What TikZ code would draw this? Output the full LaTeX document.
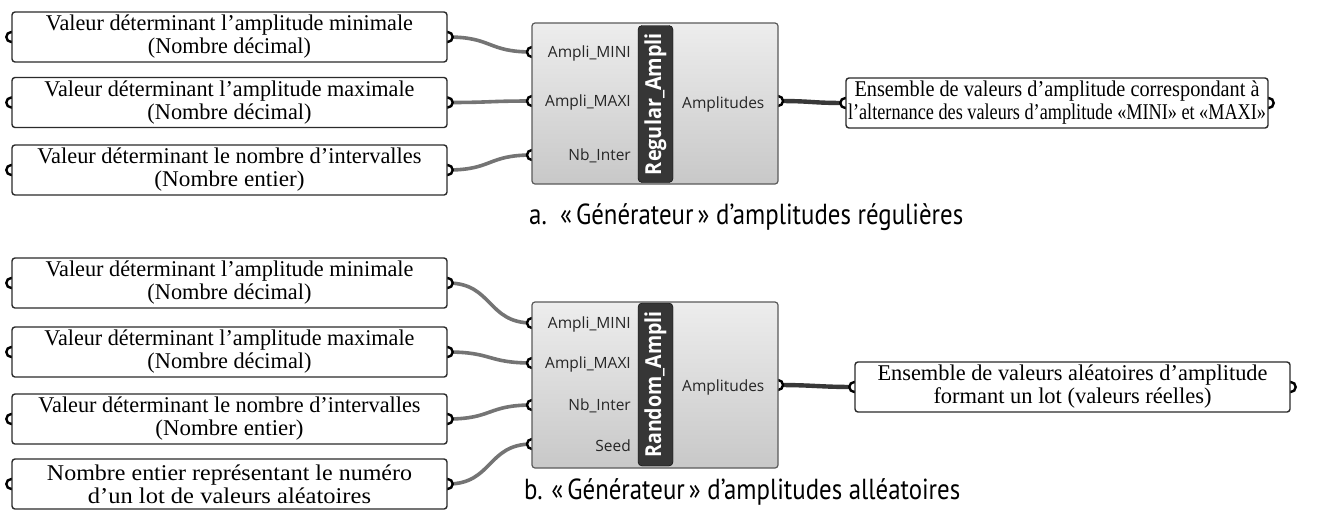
\documentclass[tikz,border=0pt]{standalone}
\usepackage{fontspec}
\usepackage{graphicx}
\setmainfont{Liberation Serif}
\newfontfamily\capfont{PT Sans}
\newfontfamily\uifont{Open Sans}
\usetikzlibrary{calc}
\definecolor{boxline}{HTML}{2B2B2B}
\definecolor{wire}{HTML}{747474}
\definecolor{owire}{HTML}{383838}
\definecolor{compline}{HTML}{5A5A5A}
\definecolor{comptop}{HTML}{EDEDED}
\definecolor{compbot}{HTML}{C8C8C8}
\definecolor{barfill}{HTML}{363636}
\newcommand{\fitw}[2]{\resizebox{#1pt}{\height}{#2}}
\pgfdeclarelayer{bg}
\pgfdeclarelayer{wires}
\pgfdeclarelayer{ports}
\pgfsetlayers{bg,wires,ports,main}
\begin{document}
\begin{tikzpicture}[x=1pt,y=-1pt,
  txtbox/.style={draw=boxline, line width=1.4pt, fill=white, rounded corners=3pt,
    minimum height=50pt, align=center, inner sep=0pt,
    font=\fontsize{22.5}{23}\selectfont},
  inbox/.style={txtbox, minimum width=435pt},
  comp/.style={draw=compline, line width=1.2pt, top color=comptop, bottom color=compbot,
    rounded corners=3pt, minimum width=246pt, inner sep=0pt},
  bar/.style={draw=black, fill=barfill, rounded corners=4pt, rotate=90,
    minimum height=35pt, inner sep=0pt, text=white,
    font=\uifont\bfseries\fontsize{22}{22}\selectfont},
  plabel/.style={font=\uifont\fontsize{15.5}{16}\selectfont, text=black!85, inner sep=0pt},
  port/.style={draw=black, line width=2.4pt, fill=white},
  wirel/.style={draw=wire, line width=3.6pt},
  owirel/.style={draw=owire, line width=4.4pt},
  caption/.style={font=\capfont\fontsize{29}{31}\selectfont, anchor=west, inner sep=0pt}
]
\begin{pgfonlayer}{bg}
\fill[white] (0,0) rectangle (1335,523);
\end{pgfonlayer}
\useasboundingbox (0,0) rectangle (1335,523);

% ---------------- a. regular ----------------
\node[inbox] (inA1) at (229.5,37) {\fitw{367}{Valeur déterminant l’amplitude minimale}\\\fitw{163}{(Nombre décimal)}};
\node[inbox] (inA2) at (229.5,102.5) {\fitw{370}{Valeur déterminant l’amplitude maximale}\\\fitw{164}{(Nombre décimal)}};
\node[inbox] (inA3) at (229.5,170) {\fitw{384}{Valeur déterminant le nombre d’intervalles}\\\fitw{150}{(Nombre entier)}};

\node[comp, minimum height=161pt] (compA) at (655,103.5) {};
\node[bar, minimum width=157pt] (barA) at (655.5,104) {\fitw{142}{Regular\_Ampli}};
\coordinate (aI1) at (532,52);
\coordinate (aI2) at (532,101);
\coordinate (aI3) at (532,155);
\coordinate (aO) at (778,101);
\node[plabel, anchor=east] (laI1) at (631,53) {Ampli\_MINI};
\node[plabel, anchor=east] (laI2) at (631,102) {Ampli\_MAXI};
\node[plabel, anchor=east] (laI3) at (631,156) {Nb\_Inter};
\node[plabel, anchor=west] (laO) at (682,104) {Amplitudes};

\node[txtbox, minimum width=422pt] (outA) at (1057,103) {\fitw{405}{Ensemble de valeurs d’amplitude correspondant à}\\\fitw{418}{l’alternance des valeurs d’amplitude «MINI» et «MAXI»}};

\node[caption] (capA) at (529,217) {\fitw{434}{a.\ \ «\,Générateur\,» d’amplitudes régulières}};

% ---------------- b. random ----------------
\node[inbox] (inB1) at (229.5,283) {\fitw{368}{Valeur déterminant l’amplitude minimale}\\\fitw{164}{(Nombre décimal)}};
\node[inbox] (inB2) at (229.5,352) {\fitw{370}{Valeur déterminant l’amplitude maximale}\\\fitw{164}{(Nombre décimal)}};
\node[inbox] (inB3) at (229.5,419) {\fitw{382}{Valeur déterminant le nombre d’intervalles}\\\fitw{148}{(Nombre entier)}};
\node[inbox] (inB4) at (229.5,484) {\fitw{365}{Nombre entier représentant le numéro}\\\fitw{283}{d’un lot de valeurs aléatoires}};

\node[comp, minimum height=166pt] (compB) at (655,385) {};
\node[bar, minimum width=163pt] (barB) at (655.5,384.5) {\fitw{146}{Random\_Ampli}};
\coordinate (bI1) at (532,323);
\coordinate (bI2) at (532,363);
\coordinate (bI3) at (532,405);
\coordinate (bI4) at (532,444);
\coordinate (bO) at (778,385);
\node[plabel, anchor=east] (lbI1) at (631,324) {Ampli\_MINI};
\node[plabel, anchor=east] (lbI2) at (631,364) {Ampli\_MAXI};
\node[plabel, anchor=east] (lbI3) at (631,406) {Nb\_Inter};
\node[plabel, anchor=east] (lbI4) at (631,446) {Seed};
\node[plabel, anchor=west] (lbO) at (682,387) {Amplitudes};

\node[inbox] (outB) at (1072.5,387) {\fitw{390}{Ensemble de valeurs aléatoires d’amplitude}\\\fitw{278}{formant un lot (valeurs réelles)}};

\node[caption] (capB) at (524,492) {\fitw{436}{b. «\,Générateur\,» d’amplitudes alléatoires}};

% ---------------- wires ----------------
\begin{pgfonlayer}{wires}
  \draw[wirel] (inA1.east) .. controls +(45,0) and +(-45,0) .. (aI1);
  \draw[wirel] (inA2.east) .. controls +(45,0) and +(-45,0) .. (aI2);
  \draw[wirel] (inA3.east) .. controls +(45,0) and +(-45,0) .. (aI3);
  \draw[owirel] (aO) .. controls +(35,0) and +(-35,0) .. (outA.west);
  \draw[wirel] (inB1.east) .. controls +(45,0) and +(-45,0) .. (bI1);
  \draw[wirel] (inB2.east) .. controls +(45,0) and +(-45,0) .. (bI2);
  \draw[wirel] (inB3.east) .. controls +(45,0) and +(-45,0) .. (bI3);
  \draw[wirel] (inB4.east) .. controls +(45,0) and +(-45,0) .. (bI4);
  \draw[owirel] (bO) .. controls +(35,0) and +(-35,0) .. (outB.west);
\end{pgfonlayer}

% ---------------- ports ----------------
\begin{pgfonlayer}{ports}
  \foreach \n in {inA1,inA2,inA3,outA,inB1,inB2,inB3,inB4,outB}{
    \draw[port] (\n.west) circle (5pt);
    \draw[port] (\n.east) circle (5pt);
  }
  \foreach \c in {aI1,aI2,aI3,aO,bI1,bI2,bI3,bI4,bO}{
    \draw[port] (\c) circle (5pt);
  }
\end{pgfonlayer}
\end{tikzpicture}
\end{document}
